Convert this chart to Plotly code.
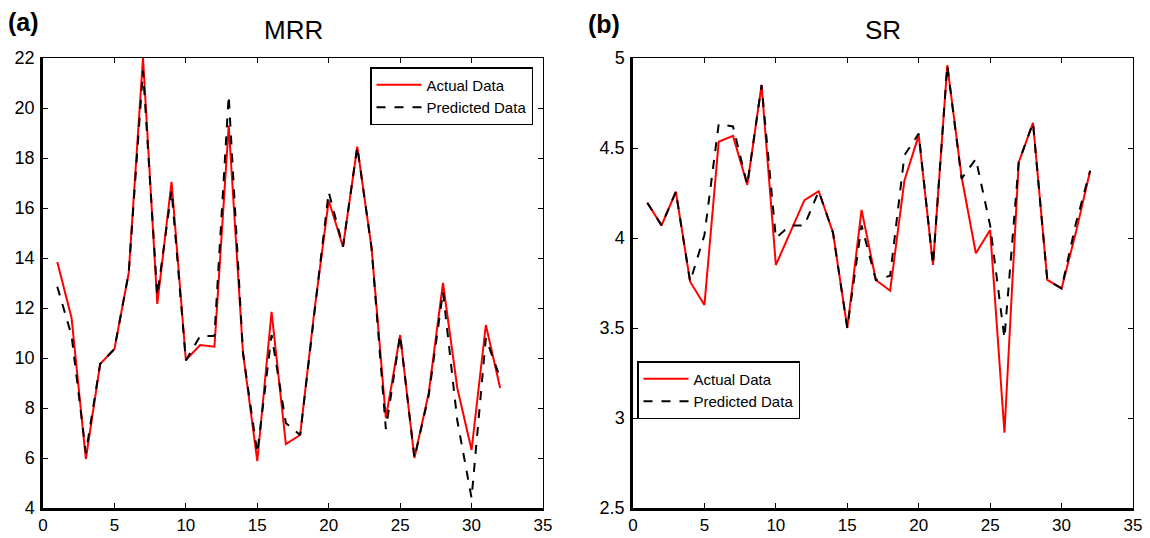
import plotly.graph_objects as go

# Experiment run index
runs = list(range(1, 33))

# Material removal rate
mrr_actual = [13.84, 11.6, 5.96, 9.76, 10.36, 13.4, 22.0, 12.16, 17.05, 9.92, 10.52, 10.45,
              19.3, 10.2, 5.88, 11.85, 6.56, 6.92, 11.9, 16.3, 14.45, 18.45, 14.4, 7.6,
              10.92, 6.0, 8.6, 13.0, 8.8, 6.32, 11.32, 8.8]
mrr_predicted = [12.85, 10.9, 6.2, 9.76, 10.36, 13.4, 21.5, 12.5, 16.7, 9.9, 10.88, 10.88,
                 20.5, 10.2, 6.2, 10.92, 7.4, 6.92, 11.8, 16.64, 14.45, 18.45, 14.4, 7.16,
                 10.92, 6.0, 8.5, 12.65, 7.5, 4.4, 10.8, 9.2]

# Surface roughness
sr_actual = [4.196, 4.07, 4.257, 3.757, 3.628, 4.535, 4.567, 4.295, 4.85, 3.85, 4.03, 4.21,
             4.26, 4.03, 3.5, 4.156, 3.767, 3.707, 4.32, 4.57, 3.85, 4.96, 4.34, 3.915,
             4.044, 2.918, 4.42, 4.64, 3.767, 3.72, 4.03, 4.374]
sr_predicted = [4.196, 4.07, 4.257, 3.757, 4.017, 4.633, 4.62, 4.295, 4.85, 4.0, 4.07, 4.07,
                4.26, 4.03, 3.5, 4.07, 3.767, 3.79, 4.46, 4.58, 3.85, 4.96, 4.33, 4.44,
                4.07, 3.444, 4.42, 4.64, 3.767, 3.72, 4.08, 4.374]

x_ticks = [0, 5, 10, 15, 20, 25, 30, 35]
mrr_ticks = [4, 6, 8, 10, 12, 14, 16, 18, 20, 22]
sr_ticks = [2.5, 3, 3.5, 4, 4.5, 5]

W, H = 1150, 538
FONT = "Liberation Sans, Arial, sans-serif"

left_dom = [43 / W, 543 / W]
right_dom = [633 / W, 1133 / W]
y_dom = [1 - 508 / H, 1 - 58 / H]

fig = go.Figure()

red = dict(color="#ff0000", width=2)
blk = dict(color="#000000", width=2, dash="dash")

fig.add_trace(go.Scatter(x=runs, y=mrr_actual, mode="lines", line=red, name="Actual Data",
                         xaxis="x", yaxis="y", legend="legend"))
fig.add_trace(go.Scatter(x=runs, y=mrr_predicted, mode="lines", line=blk, name="Predicted Data",
                         xaxis="x", yaxis="y", legend="legend"))
fig.add_trace(go.Scatter(x=runs, y=sr_actual, mode="lines", line=red, name="Actual Data",
                         xaxis="x2", yaxis="y2", legend="legend2"))
fig.add_trace(go.Scatter(x=runs, y=sr_predicted, mode="lines", line=blk, name="Predicted Data",
                         xaxis="x2", yaxis="y2", legend="legend2"))

# empty traces so the thin top/right box axes get drawn
for xa, ya in (("x3", "y3"), ("x4", "y4")):
    fig.add_trace(go.Scatter(x=[None], y=[None], xaxis=xa, yaxis=ya, showlegend=False,
                             hoverinfo="skip"))

main_axis = dict(showgrid=False, zeroline=False, showline=True, linecolor="#000",
                 linewidth=2.5, ticks="inside", ticklen=5, tickwidth=1, tickcolor="#000",
                 mirror=False, automargin=False)
box_axis = dict(showgrid=False, zeroline=False, showline=True, linecolor="#000",
                linewidth=1, ticks="inside", ticklen=5, tickwidth=1, tickcolor="#000",
                showticklabels=False, automargin=False)

xfont = dict(family=FONT, size=17, color="#000")
yfont = dict(family=FONT, size=18, color="#000")

legend_style = dict(bgcolor="white", bordercolor="#000", borderwidth=1.5,
                    font=dict(family=FONT, size=15, color="#000"),
                    xanchor="left", yanchor="top", tracegroupgap=0, itemwidth=45)

fig.update_layout(
    width=W, height=H,
    margin=dict(l=0, r=0, t=0, b=0),
    paper_bgcolor="white", plot_bgcolor="white",
    font=dict(family=FONT, color="#000"),
    xaxis=dict(main_axis, domain=left_dom, range=[0, 35], tickvals=x_ticks, anchor="y",
               tickfont=xfont, ticklabelstandoff=0),
    yaxis=dict(main_axis, domain=y_dom, range=[4, 22], tickvals=mrr_ticks, anchor="x",
               tickfont=yfont, ticklabelstandoff=2),
    xaxis2=dict(main_axis, domain=right_dom, range=[0, 35], tickvals=x_ticks, anchor="y2",
                tickfont=xfont, ticklabelstandoff=0),
    yaxis2=dict(main_axis, domain=y_dom, range=[2.5, 5], tickvals=sr_ticks, anchor="x2",
                tickfont=yfont, ticklabelstandoff=2),
    xaxis3=dict(box_axis, overlaying="x", side="top", range=[0, 35], tickvals=x_ticks,
                anchor="y3"),
    yaxis3=dict(box_axis, overlaying="y", side="right", range=[4, 22], tickvals=mrr_ticks,
                anchor="x3"),
    xaxis4=dict(box_axis, overlaying="x2", side="top", range=[0, 35], tickvals=x_ticks,
                anchor="y4"),
    yaxis4=dict(box_axis, overlaying="y2", side="right", range=[2.5, 5], tickvals=sr_ticks,
                anchor="x4"),
    legend=dict(legend_style, x=370 / W, y=1 - 67 / H),
    legend2=dict(legend_style, x=637 / W, y=1 - 361 / H),
    showlegend=True,
    annotations=[
        dict(text="MRR", x=(left_dom[0] + left_dom[1]) / 2, y=1 - 30 / H, xref="paper",
             yref="paper", showarrow=False, font=dict(family=FONT, size=26, color="#000"),
             xanchor="center", yanchor="middle"),
        dict(text="SR", x=(right_dom[0] + right_dom[1]) / 2, y=1 - 30 / H, xref="paper",
             yref="paper", showarrow=False, font=dict(family=FONT, size=26, color="#000"),
             xanchor="center", yanchor="middle"),
        dict(text="<b>(a)</b>", x=6 / W, y=1 - 22 / H, xref="paper", yref="paper",
             showarrow=False, font=dict(family=FONT, size=25, color="#000"),
             xanchor="left", yanchor="middle"),
        dict(text="<b>(b)</b>", x=586 / W, y=1 - 24 / H, xref="paper", yref="paper",
             showarrow=False, font=dict(family=FONT, size=25, color="#000"),
             xanchor="left", yanchor="middle"),
    ],
)

fig.write_html("out.html")
